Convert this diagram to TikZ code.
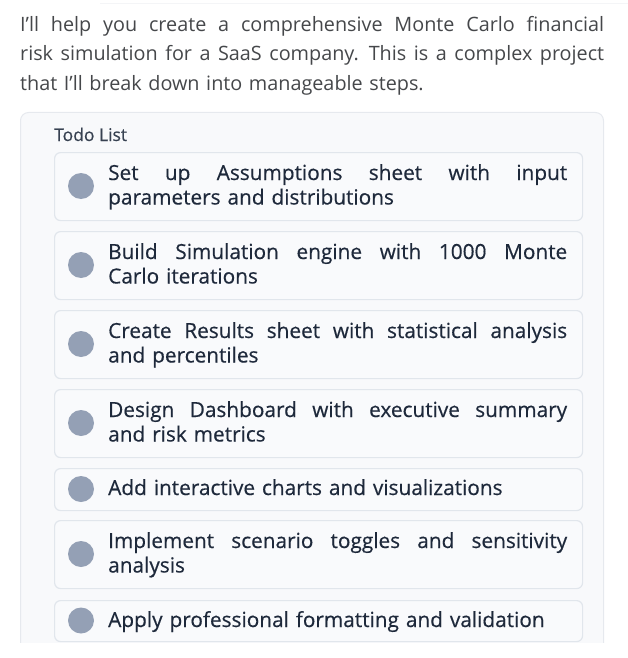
\documentclass[tikz,border=0pt]{standalone}
\usepackage{fontspec}
\setmainfont{Open Sans}
\newfontfamily\medfont{Open Sans}[FakeBold=0.45]
\definecolor{paraink}{HTML}{45474A}
\definecolor{titleink}{HTML}{374151}
\definecolor{itemink}{HTML}{1E293B}
\definecolor{panelbg}{HTML}{F8F9FB}
\definecolor{panelline}{HTML}{E6E9EE}
\definecolor{itembg}{HTML}{F9FAFC}
\definecolor{itemline}{HTML}{E1E6EC}
\definecolor{dotgray}{HTML}{94A0B5}
\definecolor{faintline}{HTML}{F4F5F7}
\newcommand{\fullline}[2]{\leavevmode\hbox to #1{\spaceskip=0.27em plus 1fil\relax #2}}

\begin{document}
\begin{tikzpicture}[x=1pt,y=-1pt,
    panel/.style={draw=panelline,fill=panelbg,line width=1pt,rounded corners=8pt,anchor=north west,inner sep=0pt},
    itembox/.style={draw=itemline,fill=itembg,line width=1.2pt,rounded corners=6pt,anchor=north west,inner sep=0pt,minimum width=528pt},
    dot/.style={circle,fill=dotgray,minimum size=26pt,inner sep=0pt},
    itemtext/.style={anchor=base west,inner sep=0pt,text width=459pt,align=left,text=itemink,font=\medfont\fontsize{20.8}{24.5}\selectfont}]
        \useasboundingbox (0,0) rectangle (628,658);
        \draw[faintline,line width=1pt] (100,4) -- (628,4);
        \node[anchor=base west,inner sep=0pt,text width=584pt,align=left,text=paraink,font=\fontsize{19.8}{29.3}\selectfont] (intro) at (20,31.7) {\fullline{584pt}{I'll help you create a comprehensive Monte Carlo financial}\\\fullline{584pt}{risk simulation for a SaaS company. This is a complex project}\\that I'll break down into manageable steps.};
        \begin{scope}
            \clip (0,0) rectangle (628,642);
            \node[panel,minimum width=583pt,minimum height=600pt] (panel) at (20,112) {};
        \end{scope}
        \node[anchor=base west,inner sep=0pt,text=titleink,font=\medfont\fontsize{17.5}{20}\selectfont] (title) at (54,141) {Todo List};
        \node[itembox,minimum height=68pt] (box1) at (54,152) {};
        \node[dot] (dot1) at (81,186) {};
        \node[itemtext] (task1) at (108,180) {\fullline{459pt}{Set up Assumptions sheet with input}\\parameters and distributions};
        \node[itembox,minimum height=68pt] (box2) at (54,231) {};
        \node[dot] (dot2) at (81,265) {};
        \node[itemtext] (task2) at (108,259) {\fullline{459pt}{Build Simulation engine with 1000 Monte}\\Carlo iterations};
        \node[itembox,minimum height=68pt] (box3) at (54,310) {};
        \node[dot] (dot3) at (81,344) {};
        \node[itemtext] (task3) at (108,338) {\fullline{459pt}{Create Results sheet with statistical analysis}\\and percentiles};
        \node[itembox,minimum height=68pt] (box4) at (54,389) {};
        \node[dot] (dot4) at (81,423) {};
        \node[itemtext] (task4) at (108,417) {\fullline{459pt}{Design Dashboard with executive summary}\\and risk metrics};
        \node[itembox,minimum height=42pt] (box5) at (54,468) {};
        \node[dot] (dot5) at (81,489) {};
        \node[itemtext] (task5) at (108,495) {Add interactive charts and visualizations};
        \node[itembox,minimum height=68pt] (box6) at (54,520) {};
        \node[dot] (dot6) at (81,554) {};
        \node[itemtext] (task6) at (108,548) {\fullline{459pt}{Implement scenario toggles and sensitivity}\\analysis};
        \node[itembox,minimum height=41pt] (box7) at (54,600) {};
        \node[dot] (dot7) at (81,620.5) {};
        \node[itemtext] (task7) at (108,627) {Apply professional formatting and validation};
    \end{tikzpicture}
\end{document}
